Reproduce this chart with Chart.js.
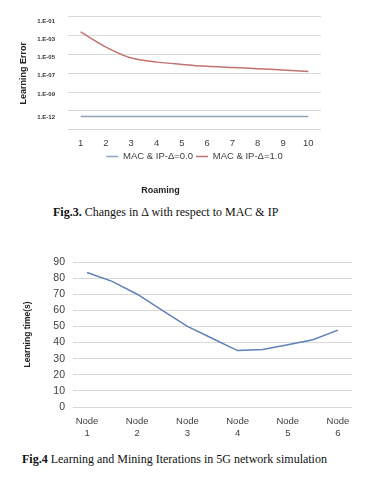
<!DOCTYPE html>
<html>
<head>
<meta charset="utf-8">
<script src="https://cdn.jsdelivr.net/npm/chart.js@4"></script>
<style>
  body { margin: 0; background: #fff; width: 373px; height: 480px; overflow: hidden; position: relative; }
  canvas { position: absolute; left: 0; }
  .cap { position: absolute; font-family: "Liberation Serif", "Times New Roman", serif; font-size: 12px; color: #111; white-space: nowrap; }
</style>
</head>
<body>
<canvas id="grafica1" width="373" height="200" style="top:0"></canvas>
<div class="cap" style="left:53px; top:205px"><b>Fig.3.</b> Changes in Δ with respect to MAC &amp; IP</div>
<canvas id="grafica2" width="373" height="200" style="top:240px"></canvas>
<div class="cap" style="left:22px; top:452px"><b>Fig.4</b> Learning and Mining Iterations in 5G network simulation</div>

<script>
// ---- datos figura 3 (error en escala de exponente, 1 unidad = 1 decada) ----
const roamX = ['1', '2', '3', '4', '5', '6', '7', '8', '9', '10'];
const errDelta0 = [-11.1, -11.1, -11.1, -11.1, -11.1, -11.1, -11.1, -11.1, -11.1, -11.1];
const errDelta1 = [-2.13, -3.73, -4.9, -5.33, -5.57, -5.77, -5.9, -6.03, -6.17, -6.33];
const errTickPos = [-1.0, -2.9, -4.8, -6.7, -8.7, -11.2];
const errTickLabels = ['1.E-01', '1.E-03', '1.E-05', '1.E-07', '1.E-09', '1.E-12'];

// ---- datos figura 4 ----
const nodePos = [1, 1.5, 2, 2.5, 3, 3.5, 4, 4.5, 5, 5.5, 6];
const learnTime = [83.5, 78, 70, 60, 50, 42.5, 35, 35.7, 38.7, 41.8, 47.7];
const nodeTicks = [1, 2, 3, 4, 5, 6];
const nodeLabels = [['Node', '1'], ['Node', '2'], ['Node', '3'], ['Node', '4'], ['Node', '5'], ['Node', '6']];

const sans = '"Liberation Sans", Arial, sans-serif';
const gridGray = '#d9d9d9';

Chart.defaults.font.family = sans;
Chart.defaults.color = '#404040';

new Chart(document.getElementById('grafica1'), {
  type: 'line',
  data: {
    labels: roamX,
    datasets: [
      { label: 'MAC & IP-Δ=0.0', data: errDelta0, borderColor: '#8ea2b8', backgroundColor: '#8ea2b8',
        borderWidth: 1.5, pointRadius: 0, yAxisID: 'y' },
      { label: 'MAC & IP-Δ=1.0', data: errDelta1, borderColor: '#c27270', backgroundColor: '#c27270',
        borderWidth: 1.5, pointRadius: 0, tension: 0.25, yAxisID: 'y' }
    ]
  },
  options: {
    responsive: false,
    animation: false,
    layout: { padding: { top: 11, right: 52, left: 0, bottom: 0 } },
    scales: {
      x: {
        offset: true,
        grid: { display: false, drawTicks: false },
        border: { display: false },
        ticks: { font: { size: 9.5 }, color: '#404040', padding: 8, maxRotation: 0 },
        afterFit: s => { s.height = 19; }
      },
      y: {
        min: -12.5, max: -0.5,
        grid: { color: gridGray, drawTicks: false },
        border: { display: false },
        ticks: { display: false, stepSize: 2 },
        afterFit: s => { s.width = 0; }
      },
      y2: {
        position: 'left',
        min: -12.5, max: -0.5,
        grid: { display: false, drawTicks: false },
        border: { display: false },
        afterBuildTicks: s => { s.ticks = errTickPos.map(v => ({ value: v })); },
        ticks: {
          font: { size: 6, weight: 'bold' }, color: '#333', padding: 13,
          callback: (v, i) => errTickLabels[i]
        },
        title: { display: true, text: 'Learning Error', font: { size: 9, weight: 'bold' },
                 color: '#222', padding: { top: 18.6, bottom: 0 } },
        afterFit: s => { s.width = 68; }
      }
    },
    plugins: {
      legend: {
        position: 'bottom',
        fullSize: false,
        labels: { usePointStyle: true, pointStyle: 'line', pointStyleWidth: 12,
                  font: { size: 9.5 }, color: '#404040', padding: 3 }
      },
      title: {
        display: true, position: 'bottom', text: 'Roaming',
        font: { size: 9, weight: 'bold' }, color: '#222', padding: { top: 14, bottom: 4 }
      },
      tooltip: { enabled: false }
    }
  }
});

new Chart(document.getElementById('grafica2'), {
  type: 'line',
  data: {
    datasets: [{
      label: 'Learning time',
      data: nodePos.map((x, i) => ({ x: x, y: learnTime[i] })),
      borderColor: '#5f80b8', borderWidth: 1.5, pointRadius: 0
    }]
  },
  options: {
    responsive: false,
    animation: false,
    layout: { padding: { top: 22, right: 21, left: 0, bottom: 0 } },
    scales: {
      x: {
        type: 'linear', min: 0.72, max: 6.28,
        grid: { display: false, drawTicks: false },
        border: { display: false },
        afterBuildTicks: s => { s.ticks = nodeTicks.map(v => ({ value: v })); },
        ticks: { font: { size: 9.5, lineHeight: 1.3 }, color: '#404040', padding: 8, maxRotation: 0,
                 callback: (v, i) => nodeLabels[i] },
        afterFit: s => { s.height = 33; }
      },
      y: {
        min: 0, max: 90,
        grid: { color: gridGray, drawTicks: false },
        border: { display: false },
        ticks: { stepSize: 10, font: { size: 10.5 }, color: '#404040', padding: 8 },
        title: { display: true, text: 'Learning time(s)', font: { size: 8.5, weight: 'bold' },
                 color: '#222', padding: { top: 23, bottom: 0 } },
        afterFit: s => { s.width = 73; }
      }
    },
    plugins: {
      legend: { display: false },
      tooltip: { enabled: false }
    }
  }
});
</script>
</body>
</html>
